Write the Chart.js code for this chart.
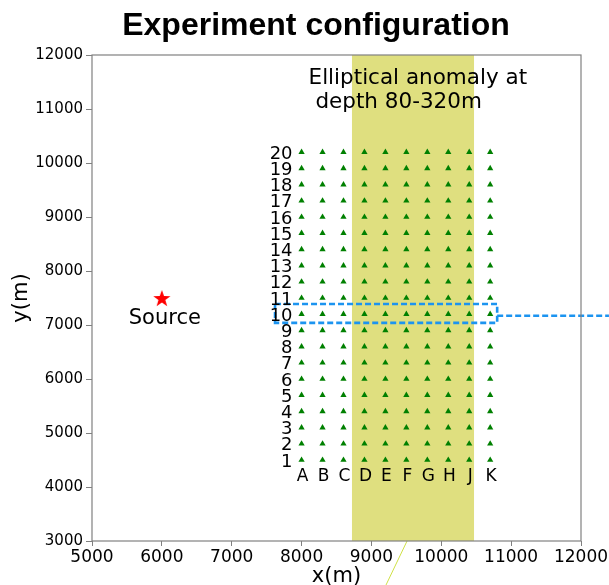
<!DOCTYPE html>
<html>
<head>
<meta charset="utf-8">
<script src="https://cdn.jsdelivr.net/npm/chart.js@4.4.0/dist/chart.umd.min.js"></script>
<style>
  body { margin: 0; background: #fff; }
  #wrap { width: 609px; height: 585px; position: relative; }
</style>
</head>
<body>
<div id="wrap"><canvas id="myChart"></canvas></div>
<script>
// Datos del montaje
const columnLetters = ["A", "B", "C", "D", "E", "F", "G", "H", "J", "K"];
const columnX = [8000, 8300, 8600, 8900, 9200, 9500, 9800, 10100, 10400, 10700];
const rowNumbers = [1, 2, 3, 4, 5, 6, 7, 8, 9, 10, 11, 12, 13, 14, 15, 16, 17, 18, 19, 20];
const rowY = [4500, 4800, 5100, 5400, 5700, 6000, 6300, 6600, 6900, 7200,
              7500, 7800, 8100, 8400, 8700, 9000, 9300, 9600, 9900, 10200];
const sourceX = [6000];
const sourceY = [7500];
const anomalyX = [8720, 10470];
const anomalyTop = [12000, 12000];
const boxX = [7620, 10800, 10800, 7620, 7620];
const boxY = [7390, 7390, 7040, 7040, 7390];
const pointerX = [10800, 12400];
const pointerY = [7170, 7170];
const linkX = [9510, 9140];
const linkY = [3000, 2000];
const xTicks = [5000, 6000, 7000, 8000, 9000, 10000, 11000, 12000];
const yTicks = [3000, 4000, 5000, 6000, 7000, 8000, 9000, 10000, 11000, 12000];

// Receptores: todas las combinaciones columna x fila
let receivers = [];
rowY.forEach(y => columnX.forEach(x => receivers.push({x: x, y: y})));

// Estrella roja para la fuente
function makeStar(size, color) {
    const c = document.createElement("canvas");
    c.width = size; c.height = size;
    const g = c.getContext("2d");
    const cx = size / 2, cy = size / 2 + 1, R = size / 2, r = R * 0.4;
    g.beginPath();
    for (let i = 0; i < 10; i++) {
        const rad = i % 2 === 0 ? R : r;
        const a = -Math.PI / 2 + i * Math.PI / 5;
        g.lineTo(cx + rad * Math.cos(a), cy + rad * Math.sin(a));
    }
    g.closePath();
    g.fillStyle = color;
    g.fill();
    return c;
}
const star = makeStar(18, "#ff0000");

const pts = (xs, ys) => xs.map((x, i) => ({x: x, y: ys[i]}));

// Textos, marco y titulo
const decor = {
    id: "decor",
    afterDraw(chart) {
        const ctx = chart.ctx;
        const xs = chart.scales.x, ys = chart.scales.y;
        const a = chart.chartArea;
        ctx.save();
        ctx.strokeStyle = "#808080";
        ctx.lineWidth = 1.2;
        ctx.strokeRect(a.left, a.top, a.right - a.left, a.bottom - a.top);

        ctx.fillStyle = "#000";
        ctx.font = "bold 32px 'Liberation Sans', Arial, sans-serif";
        ctx.textAlign = "center";
        ctx.textBaseline = "alphabetic";
        ctx.fillText("Experiment configuration", 316, 35);

        ctx.font = "21px 'DejaVu Sans'";
        ctx.fillText("x(m)", (a.left + a.right) / 2, 582);
        ctx.save();
        ctx.translate(27, (a.top + a.bottom) / 2);
        ctx.rotate(-Math.PI / 2);
        ctx.fillText("y(m)", 0, 0);
        ctx.restore();

        ctx.font = "21.5px 'DejaVu Sans'";
        ctx.textAlign = "left";
        ctx.fillText("Elliptical anomaly at", xs.getPixelForValue(8100), ys.getPixelForValue(11470));
        ctx.fillText(" depth 80-320m", xs.getPixelForValue(8100), ys.getPixelForValue(11020));

        ctx.font = "21px 'DejaVu Sans'";
        ctx.textAlign = "center";
        ctx.fillText("Source", xs.getPixelForValue(sourceX[0]) + 3, ys.getPixelForValue(sourceY[0]) + 26);

        ctx.font = "18px 'DejaVu Sans'";
        ctx.textAlign = "right";
        ctx.textBaseline = "middle";
        rowNumbers.forEach((n, i) => {
            ctx.fillText(String(n), xs.getPixelForValue(columnX[0]) - 9, ys.getPixelForValue(rowY[i]) + 2);
        });
        ctx.font = "17px 'DejaVu Sans'";
        ctx.textAlign = "center";
        columnLetters.forEach((l, i) => {
            ctx.fillText(l, xs.getPixelForValue(columnX[i]) + 1, ys.getPixelForValue(rowY[0]) + 17);
        });
        ctx.restore();
    }
};

let ctx = document.getElementById("myChart");
let myChart = new Chart(ctx, {
    type: "scatter",
    data: {
        datasets: [
            {
                data: pts(anomalyX, anomalyTop),
                showLine: true,
                fill: "start",
                backgroundColor: "rgba(191,191,0,0.5)",
                borderWidth: 0,
                pointRadius: 0,
                order: 10
            },
            {
                data: receivers,
                pointStyle: "triangle",
                pointRadius: 3.6,
                backgroundColor: "#008000",
                borderColor: "#008000",
                borderWidth: 0,
                order: 3
            },
            {
                data: pts(sourceX, sourceY),
                pointStyle: star,
                pointRadius: 9,
                order: 2
            },
            {
                data: pts(boxX, boxY),
                showLine: true,
                borderColor: "#1c94f0",
                borderWidth: 2.6,
                borderDash: [6, 3],
                pointRadius: 0,
                order: 1
            },
            {
                data: pts(pointerX, pointerY),
                showLine: true,
                borderColor: "#1c94f0",
                borderWidth: 2.6,
                borderDash: [6, 3],
                pointRadius: 0,
                clip: false,
                order: 1
            },
            {
                data: pts(linkX, linkY),
                showLine: true,
                borderColor: "#cfe046",
                borderWidth: 1,
                pointRadius: 0,
                clip: false,
                order: 1
            }
        ]
    },
    options: {
        responsive: true,
        maintainAspectRatio: false,
        animation: false,
        layout: { padding: { top: 55, right: 28, left: 0, bottom: 0 } },
        plugins: {
            legend: { display: false },
            tooltip: { enabled: false }
        },
        scales: {
            x: {
                type: "linear",
                min: 5000,
                max: 12000,
                afterBuildTicks: s => { s.ticks = xTicks.map(v => ({value: v})); },
                afterFit: s => { s.height = 44; s.paddingLeft = 0; s.paddingRight = 0; },
                grid: { drawOnChartArea: false, tickLength: 5, color: "#808080" },
                border: { display: false },
                ticks: {
                    autoSkip: false,
                    maxRotation: 0,
                    padding: 1,
                    color: "#000",
                    font: { family: "'DejaVu Sans'", size: 17 },
                    callback: v => String(v)
                }
            },
            y: {
                type: "linear",
                min: 3000,
                max: 12000,
                afterBuildTicks: s => { s.ticks = yTicks.map(v => ({value: v})); },
                afterFit: s => { s.width = 92; s.paddingTop = 0; s.paddingBottom = 0; },
                grid: { drawOnChartArea: false, tickLength: 6, color: "#808080" },
                border: { display: false },
                ticks: {
                    autoSkip: false,
                    padding: 3,
                    color: "#000",
                    font: { family: "'DejaVu Sans'", size: 15 },
                    callback: v => String(v)
                }
            }
        }
    },
    plugins: [decor]
});
</script>
</body>
</html>
